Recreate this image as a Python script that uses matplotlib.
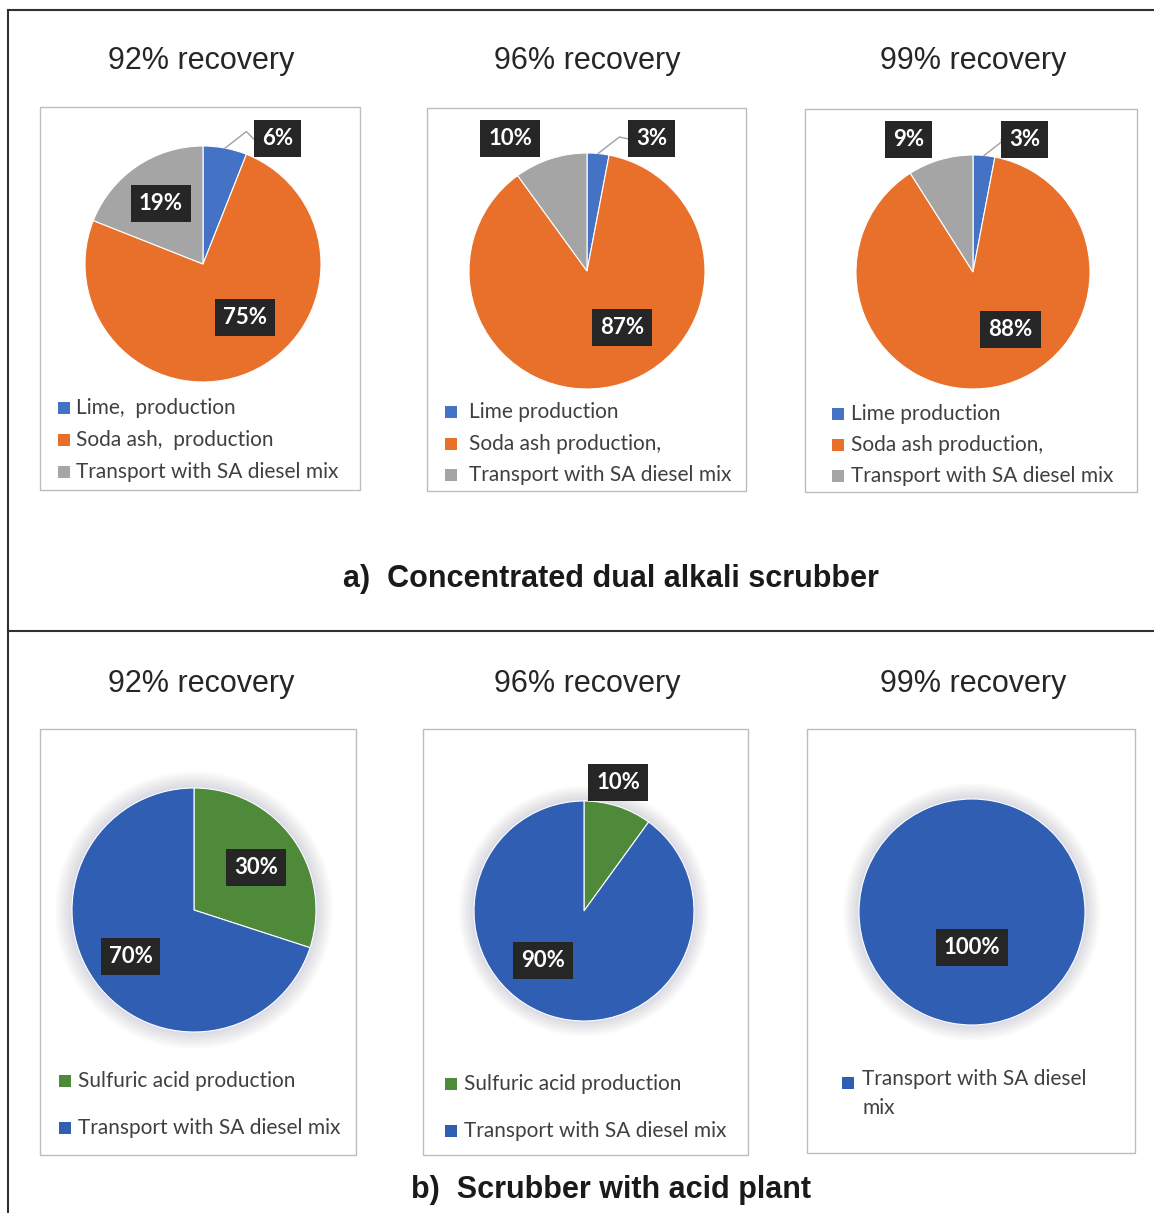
import matplotlib.pyplot as plt
from matplotlib.patches import Rectangle, Circle
from matplotlib.lines import Line2D
import numpy as np

# ---- data ----
recoveries = ['92% recovery', '96% recovery', '99% recovery']

dual_alkali_items = [
    ['Lime,  production', 'Soda ash,  production', 'Transport with SA diesel mix'],
    ['Lime production', 'Soda ash production,', 'Transport with SA diesel mix'],
    ['Lime production', 'Soda ash production,', 'Transport with SA diesel mix'],
]
dual_alkali_shares = [
    [6, 75, 19],
    [3, 87, 10],
    [3, 88, 9],
]

acid_plant_items = [
    ['Sulfuric acid production', 'Transport with SA diesel mix'],
    ['Sulfuric acid production', 'Transport with SA diesel mix'],
    ['Transport with SA diesel\nmix'],
]
acid_plant_shares = [
    [30, 70],
    [10, 90],
    [100],
]

colors_a = ['#4472C4', '#E8702A', '#A5A5A5']
colors_b = ['#4E8A3A', '#2F5EB3']

W, H = 1154, 1213
fig = plt.figure(figsize=(W / 100, H / 100), dpi=100)
fig.patch.set_facecolor('white')

LEG_FONT = ['Lato', 'DejaVu Sans']
LAB_FONT = ['Lato', 'DejaVu Sans']
HEAD_FONT = ['Liberation Sans', 'DejaVu Sans']


def fx(x):
    return x / W


def fy(y):
    return 1 - y / H


def frame_box(x0, y0, x1, y1):
    fig.add_artist(Rectangle((fx(x0), fy(y1)), fx(x1) - fx(x0), fy(y0) - fy(y1),
                             transform=fig.transFigure, fill=False,
                             ec='#BDBDBD', lw=1.0))


def pie_axes(cx, cy, r):
    ax = fig.add_axes([fx(cx - r), fy(cy + r), 2 * r / W, 2 * r / H])
    ax.set_xlim(-1, 1)
    ax.set_ylim(-1, 1)
    ax.axis('off')
    return ax


def draw_pie(ax, values, colors, label_pos, leaders=(), glow=False):
    if glow:
        # soft shadow around the pie
        for rr in np.linspace(1.14, 1.0, 20):
            ax.add_patch(Circle((0, 0.0), rr, fc='#7A6A9A', ec='none',
                                alpha=0.012, clip_on=False))
    ax.pie(values, colors=colors, startangle=90, counterclock=False, radius=1,
           wedgeprops=dict(edgecolor='white', linewidth=0.8))
    ax.set_xlim(-1, 1)
    ax.set_ylim(-1, 1)
    # leader lines for thin slices
    starts = np.cumsum([0] + list(values[:-1]))
    for i in leaders:
        mid = 90 - 360 * (starts[i] + values[i] / 2) / sum(values)
        px, py = np.cos(np.radians(mid)), np.sin(np.radians(mid))
        lx, ly = label_pos[i]
        ax.add_line(Line2D([px, px + 0.18, lx - 0.2], [py, py + 0.14, ly],
                           color='#A0A0A0', lw=1.0, clip_on=False))
    for v, (lx, ly) in zip(values, label_pos):
        ax.text(lx, ly, f'{v}%', ha='center', va='center', color='white',
                fontsize=16, fontweight='bold', family=LAB_FONT,
                bbox=dict(boxstyle='square,pad=0.36', fc='#262626', ec='none'))


def legend(x_mark, x_text, ys, names, colors):
    for y, name, c in zip(ys, names, colors):
        fig.add_artist(Rectangle((fx(x_mark - 6), fy(y + 6)), 12 / W, 12 / H,
                                 transform=fig.transFigure, fc=c, ec='none'))
        fig.text(fx(x_text), fy(y), name, ha='left', va='center',
                 fontsize=15, color='#404040', family=LEG_FONT)


# ---- outer frame ----
for xs, ys in [((8, 8), (10, 1213)), ((8, 1154), (10, 10)), ((8, 1154), (631, 631))]:
    fig.add_artist(Line2D([fx(x) for x in xs], [fy(y) for y in ys],
                          transform=fig.transFigure, color='#303030', lw=1.5))

# ---- a) concentrated dual alkali scrubber ----
title_x = [201, 587, 973]
boxes_a = [(40, 107, 360, 490), (427, 108, 746, 491), (805, 109, 1137, 492)]
pies_a = [(203, 264, 118), (587, 271, 118), (973, 272, 117)]
labels_a = [
    [(0.63, 1.06), (0.36, -0.45), (-0.36, 0.51)],
    [(0.55, 1.12), (0.30, -0.48), (-0.65, 1.12)],
    [(0.44, 1.13), (0.32, -0.49), (-0.55, 1.13)],
]
legend_a = [
    (64, 76, [408, 440, 472]),
    (451, 469, [412, 444, 475]),
    (838, 851, [414, 445, 476]),
]

for k in range(3):
    fig.text(fx(title_x[k]), fy(61), recoveries[k], ha='center', va='center',
             fontsize=22, color='#262626', family=HEAD_FONT)
    frame_box(*boxes_a[k])
    ax = pie_axes(*pies_a[k])
    draw_pie(ax, dual_alkali_shares[k], colors_a, labels_a[k], leaders=[0])
    xm, xt, ys = legend_a[k]
    legend(xm, xt, ys, dual_alkali_items[k], colors_a)

fig.text(fx(611), fy(579), 'a)  Concentrated dual alkali scrubber', ha='center',
         va='center', fontsize=22, fontweight='bold', color='#1A1A1A',
         family=HEAD_FONT)

# ---- b) scrubber with acid plant ----
boxes_b = [(40, 729, 356, 1155), (423, 729, 748, 1155), (807, 729, 1135, 1153)]
pies_b = [(194, 910, 122), (584, 911, 110), (972, 912, 113)]
labels_b = [
    [(0.51, 0.35), (-0.52, -0.38)],
    [(0.31, 1.17), (-0.37, -0.45)],
    [(0.0, -0.31)],
]
legend_b = [
    (65, 78, [1081, 1128], colors_b),
    (451, 464, [1084, 1131], colors_b),
    (848, 862, [1083], colors_b[1:]),
]

for k in range(3):
    fig.text(fx(title_x[k]), fy(684), recoveries[k], ha='center', va='center',
             fontsize=22, color='#262626', family=HEAD_FONT)
    frame_box(*boxes_b[k])
    ax = pie_axes(*pies_b[k])
    cols = colors_b if len(acid_plant_shares[k]) > 1 else colors_b[1:]
    draw_pie(ax, acid_plant_shares[k], cols, labels_b[k], glow=True)
    xm, xt, ys, lc = legend_b[k]
    if '\n' in acid_plant_items[k][0]:
        # wrapped entry: anchor text at top of first line
        fig.add_artist(Rectangle((fx(xm - 6), fy(ys[0] + 6)), 12 / W, 12 / H,
                                 transform=fig.transFigure, fc=lc[0], ec='none'))
        fig.text(fx(xt), fy(ys[0] - 14), acid_plant_items[k][0], ha='left', va='top',
                 fontsize=15, color='#404040', family=LEG_FONT, linespacing=1.55)
    else:
        legend(xm, xt, ys, acid_plant_items[k], lc)

fig.text(fx(611), fy(1190), 'b)  Scrubber with acid plant', ha='center',
         va='center', fontsize=22, fontweight='bold', color='#1A1A1A',
         family=HEAD_FONT)

fig.savefig('out.png', dpi=100, facecolor='white')
